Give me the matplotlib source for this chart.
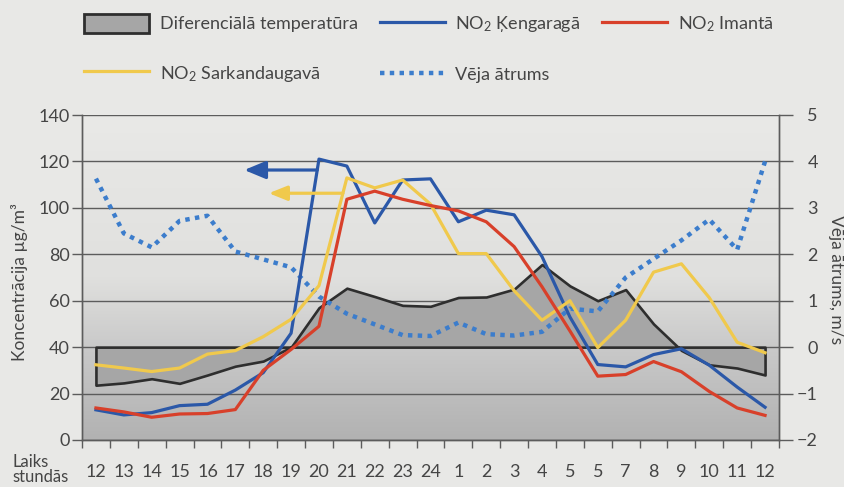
import numpy as np
import matplotlib
matplotlib.use("Agg")
import matplotlib.pyplot as plt
from matplotlib.patches import Patch
from matplotlib.lines import Line2D
from matplotlib.colors import LinearSegmentedColormap

plt.rcParams['font.family'] = ['Lato', 'DejaVu Sans']
plt.rcParams['mathtext.fontset'] = 'custom'
plt.rcParams['mathtext.rm'] = 'Lato'
plt.rcParams['mathtext.it'] = 'Lato:italic'
plt.rcParams['mathtext.bf'] = 'Lato:bold'

# hours (labels as printed)
hours = ['12', '13', '14', '15', '16', '17', '18', '19', '20', '21', '22', '23', '24',
         '1', '2', '3', '4', '5', '5', '7', '8', '9', '10', '11', '12']

# NO2 concentrations, ug/m3 (left axis)
no2_kengarags = [13.0, 10.8, 11.8, 14.8, 15.4, 21.5, 29.0, 46.0, 121.0, 118.0, 93.5, 112.0, 112.5,
                 94.0, 99.0, 97.0, 79.0, 53.0, 32.5, 31.5, 36.8, 39.3, 32.2, 22.8, 14.1]
no2_imanta = [13.8, 12.1, 9.8, 11.2, 11.4, 13.1, 30.0, 39.0, 49.0, 103.7, 107.2, 103.7, 101.0,
              98.7, 94.0, 83.3, 66.0, 47.0, 27.5, 28.2, 33.8, 29.4, 20.9, 13.8, 10.6]
no2_sarkandaugava = [32.4, 31.0, 29.5, 31.0, 37.0, 38.5, 44.5, 52.0, 66.5, 112.9, 108.6, 112.0, 101.6,
                     80.3, 80.3, 64.3, 51.6, 60.0, 39.8, 51.6, 72.3, 75.9, 61.3, 42.1, 37.6]

# right axis: differential temperature and wind speed (m/s)
diff_temp = [-0.82, -0.77, -0.68, -0.78, -0.60, -0.41, -0.30, 0.00, 0.85, 1.27, 1.09, 0.90, 0.88,
             1.07, 1.08, 1.25, 1.78, 1.32, 1.00, 1.24, 0.50, -0.07, -0.38, -0.45, -0.60]
wind = [3.63, 2.45, 2.15, 2.72, 2.83, 2.06, 1.89, 1.72, 1.09, 0.72, 0.49, 0.26, 0.24,
        0.53, 0.28, 0.25, 0.33, 0.83, 0.77, 1.50, 1.90, 2.30, 2.75, 2.10, 4.00]

left_ticks = [0, 20, 40, 60, 80, 100, 120, 140]
right_ticks = [-2, -1, 0, 1, 2, 3, 4, 5]

c_blue = '#2b58a8'
c_red = '#d8402a'
c_yellow = '#f0c94c'
c_wind = '#3c7dcc'
c_grid = '#5c5c5c'
c_text = '#454545'
paper = '#e8e8e6'

x = np.arange(len(hours))

fig = plt.figure(figsize=(8.44, 4.87), dpi=100, facecolor=paper)
ax = fig.add_axes([82 / 844, 1 - 440 / 487, 697 / 844, 325 / 487])
ax2 = ax.twinx()
ax.set_zorder(ax2.get_zorder() + 1)
ax.patch.set_visible(False)

ax.set_xlim(-0.5, len(hours) - 0.5)
ax.set_ylim(0, 140)
ax2.set_ylim(-2, 5)

# background: light on top, darker towards the bottom
cmap = LinearSegmentedColormap.from_list('bg', [(0, '#b2b2b2'), (0.28, '#c9c9c9'),
                                                (0.5, '#e0e0de'), (1, '#e9e9e7')])
grad = np.linspace(0, 1, 200).reshape(-1, 1)
ax2.imshow(grad, extent=(-0.5, len(hours) - 0.5, -2, 5), origin='lower', aspect='auto',
           cmap=cmap, zorder=0)

for v in right_ticks:
    ax2.axhline(v, color=c_grid, lw=1.0, zorder=1)

# differential temperature area
ax2.fill_between(x, diff_temp, 0, facecolor='#a6a6a6', edgecolor='#2e2e2e', lw=1.9, zorder=2)
ax2.plot(x, wind, color=c_wind, lw=3.2, linestyle=(0, (1, 1.2)), dash_capstyle='butt', zorder=3)

ax.plot(x, no2_kengarags, color=c_blue, lw=2.3, zorder=4)
ax.plot(x, no2_sarkandaugava, color=c_yellow, lw=2.3, zorder=4)
ax.plot(x, no2_imanta, color=c_red, lw=2.3, zorder=4)

# arrows pointing to the left axis
blue_arrow_y = 116.3
blue_x0 = 7 + (blue_arrow_y - no2_kengarags[7]) / (no2_kengarags[8] - no2_kengarags[7])
ax.annotate('', xy=(5.32, blue_arrow_y), xytext=(blue_x0, blue_arrow_y),
            arrowprops=dict(arrowstyle='-|>,head_length=0.65,head_width=0.27', color=c_blue,
                            lw=2.3, mutation_scale=20, shrinkA=0, shrinkB=0), zorder=5)
yel_arrow_y = 106.3
yel_x0 = 8 + (yel_arrow_y - no2_sarkandaugava[8]) / (no2_sarkandaugava[9] - no2_sarkandaugava[8])
ax.annotate('', xy=(6.2, yel_arrow_y), xytext=(yel_x0, yel_arrow_y),
            arrowprops=dict(arrowstyle='-|>,head_length=0.55,head_width=0.22', color=c_yellow,
                            lw=2.3, mutation_scale=20, shrinkA=0, shrinkB=0), zorder=5)

# axes styling
for a in (ax, ax2):
    for s in a.spines.values():
        s.set_color(c_grid)
        s.set_linewidth(1.0)
    a.spines['top'].set_visible(False)

ax.set_yticks(left_ticks)
ax.tick_params(axis='y', length=7, width=1, color=c_grid, pad=2, labelsize=13, labelcolor=c_text)
ax2.set_yticks(right_ticks)
ax2.tick_params(axis='y', length=10, width=1, color=c_grid, pad=18, labelsize=13, labelcolor=c_text)
for t in ax2.get_yticklabels():
    t.set_horizontalalignment('right')

ax.set_xticks(np.arange(-0.5, len(hours), 1))
ax.set_xticklabels([])
ax.tick_params(axis='x', which='major', length=6, width=1, color=c_grid)
ax.set_xticks(x, minor=True)
ax.set_xticklabels(hours, minor=True)
ax.tick_params(axis='x', which='minor', length=0, pad=17, labelsize=13, labelcolor=c_text)

fig.text(20 / 844, 1 - 282 / 487, 'Koncentrācija µg/m³', rotation=90, ha='center', va='center',
         fontsize=12.5, color=c_text)
fig.text(836 / 844, 1 - 280 / 487, 'Vēja ātrums, m/s', rotation=270, ha='center', va='center',
         fontsize=12.5, color=c_text)
fig.text(12 / 844, 0.004, 'Laiks\nstundās', ha='left', va='bottom', fontsize=12,
         color=c_text, linespacing=0.95)

# legend
handles = [
    Patch(facecolor='#a6a6a6', edgecolor='#2e2e2e', lw=2),
    Line2D([], [], color=c_yellow, lw=2.3),
    Line2D([], [], color=c_blue, lw=2.3),
    Line2D([], [], color=c_wind, lw=3.2, linestyle=(0, (1, 1.2)), dash_capstyle='butt'),
    Line2D([], [], color=c_red, lw=2.3),
]
labels = ['Diferenciālā temperatūra', 'NO$_2$ Sarkandaugavā', 'NO$_2$ Ķengaragā',
          'Vēja ātrums', 'NO$_2$ Imantā']
fig.legend(handles, labels, ncol=3, loc='upper left', bbox_to_anchor=(84 / 844, 1 - 14 / 487),
           frameon=False, fontsize=13, handlelength=3.6, handleheight=1.2, handletextpad=0.6,
           labelspacing=1.7, columnspacing=1.2, borderpad=0, borderaxespad=0, labelcolor=c_text)

fig.savefig('out.png', dpi=100, facecolor=paper)
